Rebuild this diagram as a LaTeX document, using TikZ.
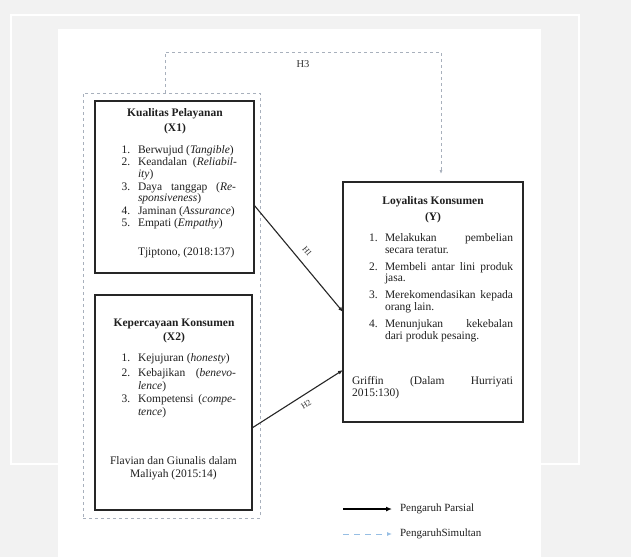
\documentclass[tikz,border=0pt]{standalone}
\usepackage{fontspec}
\setmainfont{Liberation Serif}
\usetikzlibrary{arrows.meta}
\definecolor{bgc}{HTML}{F2F2F2}
\definecolor{dashc}{RGB}{168,176,188}
\definecolor{legblue}{RGB}{150,190,228}
\newcounter{tn}
\newcommand\tx[4][base west]{\stepcounter{tn}\node[txt,anchor=#1] (t\arabic{tn}) at (#2,#3) {#4};}
\newcommand\jus[2]{\makebox[#1][s]{#2}}
\begin{document}
\begin{tikzpicture}[x=1pt,y=-1pt,
  txt/.style={inner sep=0pt, outer sep=0pt, font=\fontsize{11.5}{12}\selectfont, text=black!88},
  vbox/.style={draw=black!85, line width=2.2pt, inner sep=0pt, outer sep=0pt},
  grpbox/.style={draw=dashc, line width=0.7pt, dash pattern=on 3pt off 3pt, inner sep=0pt, outer sep=0pt},
  harrow/.style={draw=black!85, line width=1.1pt, -{Latex[length=5pt,width=4pt]}},
  hlab/.style={inner sep=0pt, font=\fontsize{8.5}{9}\selectfont, text=black!80},
  h3line/.style={draw=dashc, line width=0.7pt, dash pattern=on 3pt off 3pt, -{Latex[length=4pt,width=3pt]}},
  legsolid/.style={draw=black, line width=1.8pt, -{Latex[length=6pt,width=5pt]}},
  legdash/.style={draw=legblue, line width=1pt, dash pattern=on 6pt off 5pt, -{Latex[length=5pt,width=4pt]}}
]
\useasboundingbox (0,0) rectangle (631,557);
% page background
\fill[bgc] (0,0) rectangle (631,557);
\draw[white, line width=1.2pt] (11,15) rectangle (579,464);
\fill[white] (58,29) rectangle (541,557);

% group of independent variables
\node[grpbox, minimum width=177pt, minimum height=425pt] (grp) at (171.5,305.5) {};

% boxes
\node[vbox, minimum width=159pt, minimum height=172pt] (X1) at (174.5,187) {};
\node[vbox, minimum width=157pt, minimum height=215pt] (X2) at (173.5,402.5) {};
\node[vbox, minimum width=180pt, minimum height=240pt] (Y) at (433,302) {};

% X1 content
\tx[base]{175}{116.8}{\textbf{Kualitas Pelayanan}}
\tx[base]{175}{131.8}{\textbf{(X1)}}
\tx{121.5}{153.5}{1.}\tx{138}{153.5}{Berwujud (\textit{Tangible})}
\tx{121.5}{165.2}{2.}\tx{138}{165.2}{\jus{99pt}{Keandalan (\textit{Reliabil-}}}
\tx{138}{177.8}{\textit{ity})}
\tx{121.5}{190.2}{3.}\tx{138}{190.2}{\jus{98pt}{Daya tanggap (\textit{Re-}}}
\tx{138}{201.8}{\textit{sponsiveness})}
\tx{121.5}{214.2}{4.}\tx{138}{214.2}{Jaminan (\textit{Assurance})}
\tx{121.5}{226.8}{5.}\tx{138}{226.8}{Empati (\textit{Empathy})}
\tx{138}{255.8}{Tjiptono, (2018:137)}

% X2 content
\tx[base]{174}{326.2}{\textbf{Kepercayaan Konsumen}}
\tx[base]{174}{340.2}{\textbf{(X2)}}
\tx{121.5}{361.8}{1.}\tx{138}{361.8}{Kejujuran (\textit{honesty})}
\tx{121.5}{376.8}{2.}\tx{138}{376.8}{\jus{98pt}{Kebajikan (\textit{benevo-}}}
\tx{138}{389.5}{\textit{lence})}
\tx{121.5}{402.8}{3.}\tx{138}{402.8}{\jus{98pt}{Kompetensi (\textit{compe-}}}
\tx{138}{415.2}{\textit{tence})}
\tx[base]{173.5}{464.5}{Flavian dan Giunalis dalam}
\tx[base]{173.5}{477.8}{Maliyah (2015:14)}

% Y content
\tx[base]{433}{204.2}{\textbf{Loyalitas Konsumen}}
\tx[base]{433}{220.2}{\textbf{(Y)}}
\tx{369}{241.2}{1.}\tx{385}{241.2}{\jus{128pt}{Melakukan pembelian}}
\tx{385}{253.5}{secara teratur.}
\tx{369}{270.2}{2.}\tx{385}{270.2}{\jus{128pt}{Membeli antar lini produk}}
\tx{385}{281.5}{jasa.}
\tx{369}{298.5}{3.}\tx{385}{298.5}{\jus{128pt}{Merekomendasikan kepada}}
\tx{385}{310.5}{orang lain.}
\tx{369}{327.5}{4.}\tx{385}{327.5}{\jus{128pt}{Menunjukan kekebalan}}
\tx{385}{339.5}{dari produk pesaing.}
\tx{352}{384.5}{\jus{161pt}{Griffin (Dalam Hurriyati}}
\tx{352}{396.5}{2015:130)}

% partial effects
\draw[harrow] ([yshift=-18pt]X1.east) -- node[hlab, sloped, above=8pt, pos=0.5] (h1) {H1} ([yshift=-10pt]Y.west);
\draw[harrow] ([yshift=-25.5pt]X2.east) -- node[hlab, sloped, below=6pt, pos=0.54] (h2) {H2} ([yshift=-68pt]Y.west);

% simultaneous effect
\draw[h3line, shorten >=8pt] ([xshift=-6.5pt]grp.north) -- ++(0,-41)
  -| node[pos=0.25, below=8pt, inner sep=0pt, font=\fontsize{10.5}{11}\selectfont, text=black!80] (h3) {H3} ([xshift=8pt]Y.north);

% legend
\coordinate (L1a) at (343,509);
\coordinate (L1b) at (392,509);
\coordinate (L2a) at (343,534);
\coordinate (L2b) at (392,534);
\draw[legsolid] (L1a) -- (L1b);
\draw[legdash] (L2a) -- (L2b);
\node[txt, anchor=west, font=\fontsize{11}{12}\selectfont] (leg1) at ([xshift=8pt]L1b) {Pengaruh Parsial};
\node[txt, anchor=west, font=\fontsize{11}{12}\selectfont] (leg2) at ([xshift=8pt]L2b) {PengaruhSimultan};
\end{tikzpicture}
\end{document}
